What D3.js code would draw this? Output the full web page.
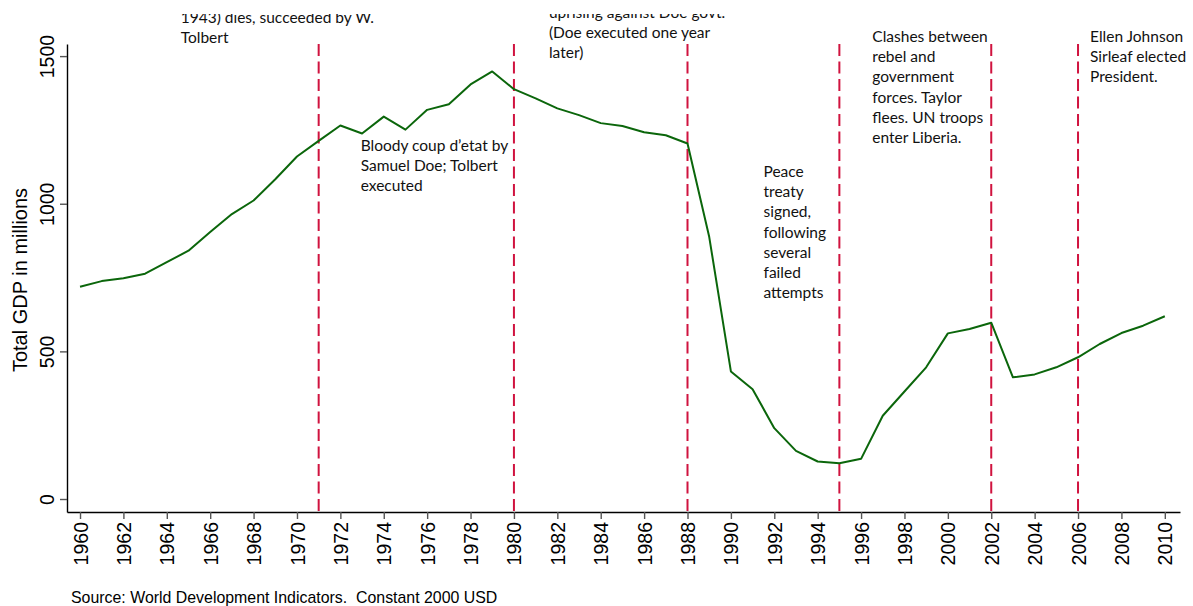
<!DOCTYPE html>
<html>
<head>
<meta charset="utf-8">
<script src="https://cdn.jsdelivr.net/npm/d3@7"></script>
<style>
  html, body { margin: 0; padding: 0; background: #fff; }
  svg { display: block; }
</style>
</head>
<body>
<svg id="chart" width="1193" height="606"></svg>
<script>
// ---- data ----
const years = [1960,1961,1962,1963,1964,1965,1966,1967,1968,1969,
               1970,1971,1972,1973,1974,1975,1976,1977,1978,1979,
               1980,1981,1982,1983,1984,1985,1986,1987,1988,1989,
               1990,1991,1992,1993,1994,1995,1996,1997,1998,1999,
               2000,2001,2002,2003,2004,2005,2006,2007,2008,2009,2010];
const gdp = [719,738,748,763,802,841,904,965,1011,1083,
             1160,1213,1265,1238,1295,1251,1318,1337,1404,1448,
             1388,1357,1323,1300,1273,1263,1242,1232,1204,888,
             432,372,240,163,127,121,136,282,364,446,
             561,576,597,412,422,446,480,525,562,587,619];
const eventYears = [1971, 1980, 1988, 1995, 2002, 2006];
const xTickYears = d3.range(1960, 2011, 2);
const yTickValues = [0, 500, 1000, 1500];
const annotations = [
  { year: 1971, dx: -138, top: 23, lines: ["1943) dies, succeeded by W.", "Tolbert"] },
  { year: 1980, dx: 35, top: 18, lines: ["uprising against Doe govt.", "(Doe executed one year", "later)"] },
  { year: 1971, dx: 42, top: 151, lines: ["Bloody coup d\u2019etat by", "Samuel Doe; Tolbert", "executed"] },
  { year: 1988, dx: 76, top: 177, lines: ["Peace", "treaty", "signed,", "following", "several", "failed", "attempts"] },
  { year: 1995, dx: 33, top: 42, lines: ["Clashes between", "rebel and", "government", "forces. Taylor", "flees. UN troops", "enter Liberia."] },
  { year: 2006, dx: 12, top: 42, lines: ["Ellen Johnson", "Sirleaf elected", "President."] }
];
const yLabel = "Total GDP in millions";
const sourceNote = "Source: World Development Indicators.  Constant 2000 USD";

// ---- layout ----
const svg = d3.select("#chart");
const x = d3.scaleLinear().domain([1959.4, 2010.7]).range([67, 1180]);
const y = d3.scaleLinear().domain([-44, 1541]).range([512, 44]);
const axisFont = "'Liberation Sans', Arial, sans-serif";
const annoFont = "Lato, 'Open Sans', sans-serif";

// clip for annotations (top of the figure is cut)
svg.append("defs").append("clipPath").attr("id", "annoClip")
  .append("rect").attr("x", 0).attr("y", 14).attr("width", 1193).attr("height", 600);

// event lines
svg.append("g").selectAll("line").data(eventYears).join("line")
  .attr("x1", d => x(d)).attr("x2", d => x(d))
  .attr("y1", y(1541)).attr("y2", y(-44))
  .attr("stroke", "#d0133f").attr("stroke-width", 2)
  .attr("stroke-dasharray", "12,5.5");

// GDP line
const line = d3.line().x((d, i) => x(years[i])).y(d => y(d));
svg.append("path").datum(gdp)
  .attr("d", line)
  .attr("fill", "none")
  .attr("stroke", "#0b660b")
  .attr("stroke-width", 2)
  .attr("stroke-linejoin", "round");

// y axis
const yAxis = svg.append("g").attr("transform", `translate(${x(1959.4)},0)`)
  .call(d3.axisLeft(y).tickValues(yTickValues).tickSize(7).tickSizeOuter(0).tickFormat(d3.format("d")));
yAxis.select(".domain").attr("stroke", "#000").attr("stroke-width", 1.4);
yAxis.selectAll(".tick line").attr("stroke", "#555").attr("stroke-width", 1.4);
yAxis.selectAll(".tick text")
  .attr("transform", "rotate(-90)")
  .attr("x", 0).attr("y", -13).attr("dy", 0)
  .style("text-anchor", "middle")
  .style("font-family", axisFont).style("font-size", "19.5px").attr("fill", "#000");

// x axis
const xAxis = svg.append("g").attr("transform", `translate(0,${y(-44)})`)
  .call(d3.axisBottom(x).tickValues(xTickYears).tickSize(7).tickSizeOuter(0).tickFormat(d3.format("d")));
xAxis.select(".domain").attr("stroke", "#000").attr("stroke-width", 1.4);
xAxis.selectAll(".tick line").attr("stroke", "#555").attr("stroke-width", 1.4);
xAxis.selectAll(".tick text")
  .attr("transform", "rotate(-90)")
  .attr("x", -10).attr("y", 0).attr("dy", "0.36em")
  .style("text-anchor", "end")
  .style("font-family", axisFont).style("font-size", "19.5px").attr("fill", "#000");

// y axis label
svg.append("text")
  .attr("transform", "translate(20,280) rotate(-90)")
  .attr("dy", "0.35em")
  .style("text-anchor", "middle")
  .style("font-family", axisFont).style("font-size", "20px")
  .text(yLabel);

// source note
svg.append("text")
  .attr("x", 71).attr("y", 603)
  .style("font-family", axisFont).style("font-size", "15.9px")
  .style("white-space", "pre")
  .text(sourceNote);

// annotations
const ag = svg.append("g").attr("clip-path", "url(#annoClip)");
annotations.forEach(a => {
  const t = ag.append("text")
    .attr("x", x(a.year) + a.dx).attr("y", a.top)
    .style("font-family", annoFont).style("font-size", "15.5px").attr("fill", "#111");
  a.lines.forEach((l, i) => {
    t.append("tspan").attr("x", x(a.year) + a.dx).attr("y", a.top + i * 20.2).text(l);
  });
});
</script>
</body>
</html>
